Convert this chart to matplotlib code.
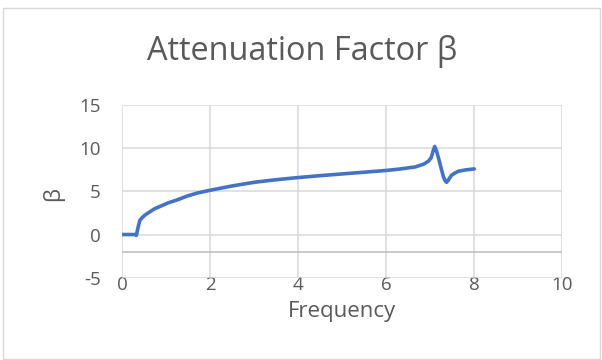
import matplotlib
matplotlib.use("Agg")
import matplotlib.pyplot as plt
from matplotlib.patches import Rectangle

plt.rcParams["axes.unicode_minus"] = False

# Attenuation factor versus frequency
freq = [0, 0.1, 0.2, 0.28, 0.32, 0.36, 0.40, 0.45, 0.51, 0.6, 0.74, 0.9, 1.04,
        1.27, 1.46, 1.7, 2.0, 2.5, 3.0, 3.5, 4.0, 4.5, 5.0, 5.5, 6.0, 6.3,
        6.66, 6.85, 6.96, 7.02, 7.06, 7.10, 7.14, 7.19, 7.25, 7.30, 7.34,
        7.37, 7.41, 7.48, 7.56, 7.64, 7.8, 8.0]
beta = [0, 0, 0, 0, -0.1, 0.88, 1.65, 1.95, 2.23, 2.55, 3.0, 3.35, 3.66,
        4.05, 4.43, 4.8, 5.13, 5.63, 6.05, 6.35, 6.6, 6.82, 7.02, 7.22, 7.42,
        7.58, 7.83, 8.15, 8.5, 8.9, 9.6, 10.2, 9.7, 8.8, 7.6, 6.67, 6.2,
        6.05, 6.3, 6.86, 7.12, 7.33, 7.48, 7.6]

x_ticks = [0, 2, 4, 6, 8, 10]
y_ticks = [-5, 0, 5, 10, 15]

title = "Attenuation Factor β"
x_label = "Frequency"
y_label = "β"

text_color = "#595959"
grid_color = "#D9D9D9"
line_color = "#4472C4"
font = ["Open Sans", "DejaVu Sans"]

W, H = 602, 360
fig = plt.figure(figsize=(W / 100, H / 100), dpi=100)
fig.patch.set_facecolor("white")

# chart border
fig.add_artist(Rectangle((2.5 / W, 1.5 / H), 597 / W, 351 / H,
                         transform=fig.transFigure, fill=False,
                         edgecolor=grid_color, linewidth=1.0))

left, right, top, bottom = 122.3, 562.3, 105.0, 277.7
ax = fig.add_axes([left / W, 1 - bottom / H, (right - left) / W, (bottom - top) / H])
ax.set_xlim(0, 10)
ax.set_ylim(-5, 15)
for s in ax.spines.values():
    s.set_visible(False)

ax.set_xticks(x_ticks)
ax.set_yticks(y_ticks)
ax.grid(True, color=grid_color, linewidth=1.1)
ax.set_axisbelow(True)
ax.axhline(-2, color="#BFBFBF", linewidth=1.2, zorder=1)

ax.tick_params(axis="both", length=0, labelsize=13.5, labelcolor=text_color)
ax.tick_params(axis="x", pad=-1.5)
ax.tick_params(axis="y", pad=15.5)
for lab in ax.get_xticklabels() + ax.get_yticklabels():
    lab.set_family(font)

ax.plot(freq, beta, color=line_color, linewidth=2.6, solid_joinstyle="round",
        solid_capstyle="round", zorder=3)

fig.text(302 / W, 1 - 52 / H, title, ha="center", va="center",
         fontsize=23.4, color=text_color, family=font)
fig.text(342 / W, 1 - 311.5 / H, x_label, ha="center", va="center",
         fontsize=16, color=text_color, family=font)
fig.text(53 / W, 1 - 194 / H, y_label, ha="center", va="center",
         rotation=90, fontsize=16, color=text_color, family=font)

fig.savefig("out.png", dpi=100, facecolor="white")
